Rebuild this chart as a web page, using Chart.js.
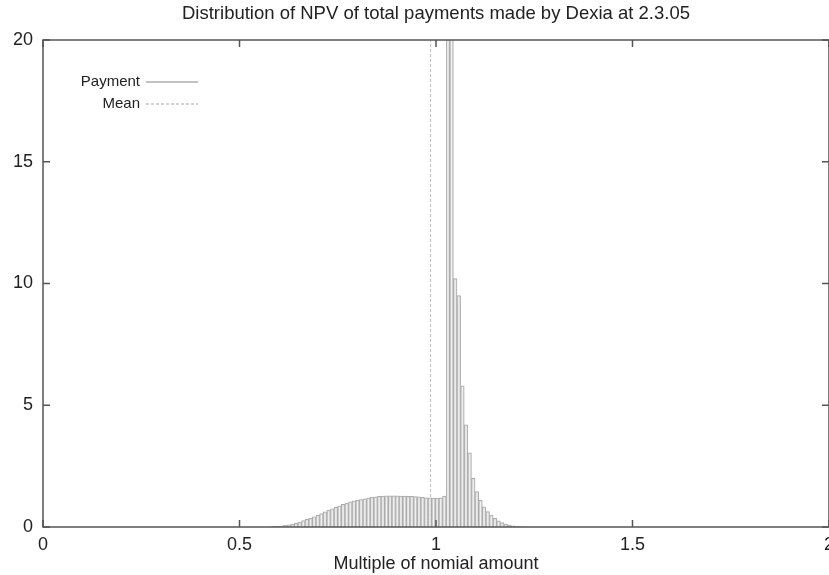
<!DOCTYPE html>
<html>
<head>
<meta charset="utf-8">
<script src="https://cdn.jsdelivr.net/npm/chart.js@4.4.1/dist/chart.umd.min.js"></script>
<style>
  html, body { margin: 0; padding: 0; background: #fff; }
  #wrap { width: 829px; height: 575px; }
</style>
</head>
<body>
<div id="wrap"><canvas id="chart"></canvas></div>
<script>
// histogram bins (left edges) and heights
const binLefts = [
  0.5750, 0.5842, 0.5934, 0.6026, 0.6118, 0.6210, 0.6302, 0.6394, 0.6486, 0.6578,
  0.6670, 0.6762, 0.6854, 0.6946, 0.7038, 0.7130, 0.7222, 0.7314, 0.7406, 0.7498,
  0.7590, 0.7682, 0.7774, 0.7866, 0.7958, 0.8050, 0.8142, 0.8234, 0.8326, 0.8418,
  0.8510, 0.8602, 0.8694, 0.8786, 0.8878, 0.8970, 0.9062, 0.9154, 0.9246, 0.9338,
  0.9430, 0.9522, 0.9614, 0.9706, 0.9798, 0.9890, 0.9982, 1.0074, 1.0166, 1.0258,
  1.0350, 1.0442, 1.0534, 1.0626, 1.0718, 1.0810, 1.0902, 1.0994, 1.1086, 1.1178,
  1.1270, 1.1362, 1.1454, 1.1546, 1.1638, 1.1730, 1.1822, 1.1914, 1.2006, 1.2098,
  1.2190, 1.2282
];
const binWidth = 0.0092;
const payment = [
  0.01, 0.02, 0.03, 0.05, 0.07, 0.09, 0.12, 0.16, 0.20, 0.26,
  0.31, 0.36, 0.42, 0.48, 0.55, 0.62, 0.69, 0.75, 0.81, 0.87,
  0.93, 0.98, 1.03, 1.07, 1.10, 1.13, 1.16, 1.19, 1.22, 1.24,
  1.26, 1.27, 1.28, 1.28, 1.28, 1.28, 1.27, 1.27, 1.26, 1.26,
  1.25, 1.24, 1.22, 1.20, 1.20, 1.19, 1.19, 1.20, 1.27, 28.0,
  24.0, 10.2, 9.5, 5.8, 4.2, 3.05, 2.0, 1.45, 1.1, 0.83,
  0.63, 0.49, 0.36, 0.25, 0.18, 0.12, 0.08, 0.05, 0.03, 0.02,
  0.01, 0.01
];
const meanValue = 0.986;
const xTicks = [0, 0.5, 1, 1.5, 2];
const yTicks = [0, 5, 10, 15, 20];

const FONT = 'Liberation Sans, Arial, sans-serif';
const TEXT = '#222';

const frame = {
  id: 'frame',
  afterDatasetsDraw(chart) {
    const { ctx, chartArea: a, scales } = chart;
    ctx.save();
    ctx.strokeStyle = '#555';
    ctx.lineWidth = 1.5;
    ctx.strokeRect(a.left, a.top, a.right - a.left, a.bottom - a.top);

    // inward ticks on all four sides
    ctx.beginPath();
    xTicks.forEach(v => {
      const px = scales.x.getPixelForValue(v);
      ctx.moveTo(px, a.bottom); ctx.lineTo(px, a.bottom - 7);
      ctx.moveTo(px, a.top); ctx.lineTo(px, a.top + 7);
    });
    yTicks.forEach(v => {
      const py = scales.y.getPixelForValue(v);
      ctx.moveTo(a.left, py); ctx.lineTo(a.left + 7, py);
      ctx.moveTo(a.right, py); ctx.lineTo(a.right - 7, py);
    });
    ctx.stroke();

    // legend, gnuplot style: label right-aligned, sample line after it
    ctx.font = '15px ' + FONT;
    ctx.fillStyle = TEXT;
    ctx.textAlign = 'right';
    ctx.textBaseline = 'middle';
    const lx = a.left + 97, ly = a.top + 42;
    chart.data.datasets.forEach((ds, i) => {
      const y = ly + i * 22;
      ctx.fillText(ds.label, lx, y);
      ctx.strokeStyle = ds.borderColor;
      ctx.lineWidth = 1.5;
      ctx.setLineDash(ds.borderDash || []);
      ctx.beginPath();
      ctx.moveTo(lx + 6, y);
      ctx.lineTo(lx + 58, y);
      ctx.stroke();
      ctx.setLineDash([]);
    });
    ctx.restore();
  }
};

new Chart(document.getElementById('chart'), {
  type: 'bar',
  data: {
    datasets: [
      {
        type: 'bar',
        label: 'Payment',
        data: binLefts.map((x, i) => ({ x: x + binWidth / 2, y: payment[i] })),
        backgroundColor: 'rgba(238,238,238,0.7)',
        borderColor: '#acacac',
        borderWidth: 1,
        barPercentage: 1,
        categoryPercentage: 1,
        grouped: false
      },
      {
        type: 'line',
        label: 'Mean',
        data: [{ x: meanValue, y: 0 }, { x: meanValue, y: 20 }],
        borderColor: '#c4c4c4',
        borderDash: [3, 2],
        borderWidth: 1.2,
        pointRadius: 0
      }
    ]
  },
  options: {
    responsive: true,
    maintainAspectRatio: false,
    animation: false,
    layout: { padding: 0 },
    plugins: {
      legend: { display: false },
      tooltip: { enabled: false },
      title: {
        display: true,
        fullSize: false,
        text: 'Distribution of NPV of total payments made by Dexia at 2.3.05',
        color: TEXT,
        font: { family: FONT, size: 18.5, weight: 'normal' },
        padding: { top: 3, bottom: 14.8 }
      }
    },
    scales: {
      x: {
        type: 'linear',
        min: 0,
        max: 2,
        offset: false,
        afterBuildTicks: s => { s.ticks = xTicks.map(v => ({ value: v })); },
        afterFit: s => { s.height = 48; s.paddingLeft = 0; s.paddingRight = 0; },
        grid: { display: false, drawTicks: false },
        border: { display: false },
        ticks: {
          color: TEXT,
          font: { family: FONT, size: 18 },
          padding: 7,
          maxRotation: 0,
          callback: v => String(v)
        },
        title: {
          display: true,
          text: 'Multiple of nomial amount',
          color: TEXT,
          font: { family: FONT, size: 18 },
          padding: { top: 0, bottom: 0 }
        }
      },
      y: {
        min: 0,
        max: 20,
        afterBuildTicks: s => { s.ticks = yTicks.map(v => ({ value: v })); },
        afterFit: s => { s.width = 43; s.paddingTop = 0; s.paddingBottom = 0; },
        grid: { display: false, drawTicks: false },
        border: { display: false },
        ticks: { color: TEXT, font: { family: FONT, size: 18 }, padding: 10 }
      }
    }
  },
  plugins: [frame]
});
</script>
</body>
</html>
